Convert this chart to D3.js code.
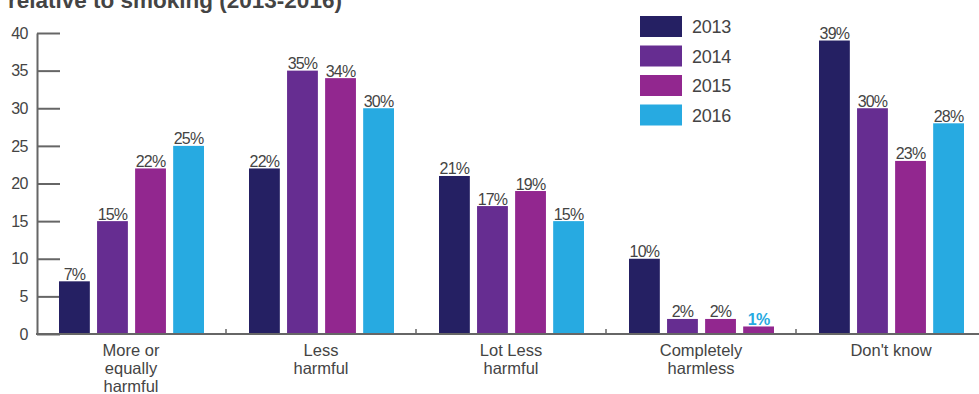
<!DOCTYPE html>
<html>
<head>
<meta charset="utf-8">
<script src="https://cdn.jsdelivr.net/npm/d3@7"></script>
<style>
    body { margin: 0; background: #fff; }
    svg { display: block; font-family: "Liberation Sans", Arial, sans-serif; }
</style>
</head>
<body>
<svg id="chart" width="979" height="394"></svg>
<script>
const categories = ['More or|equally|harmful', 'Less|harmful', 'Lot Less|harmful', 'Completely|harmless', "Don't know"];
const years = ['2013', '2014', '2015', '2016'];
const values2013 = [7, 22, 21, 10, 39];
const values2014 = [15, 35, 17, 2, 30];
const values2015 = [22, 34, 19, 2, 23];
const values2016 = [25, 30, 15, 1, 28];
const yTicks = [0, 5, 10, 15, 20, 25, 30, 35, 40];

const series = [values2013, values2014, values2015, values2016];
const colors = ['#252063', '#662d91', '#92278f', '#27aae1'];

const svg = d3.select('#chart');

const x = d3.scaleBand()
    .domain(categories)
    .range([36, 986]);

const xInner = d3.scaleBand()
    .domain(years)
    .range([23, x.bandwidth() - 22])
    .paddingInner(0.19);

const y = d3.scaleLinear()
    .domain([0, 40])
    .range([334, 33]);

// title (cut off at top in the original)
svg.append('text')
    .attr('x', 8)
    .attr('y', 8)
    .attr('font-size', 22.5)
    .attr('font-weight', 'bold')
    .attr('fill', '#444')
    .text('relative to smoking (2013-2016)');

// y axis
const yAxis = svg.append('g')
    .attr('transform', 'translate(37,0)')
    .call(d3.axisLeft(y).tickValues(yTicks).tickSizeInner(-23).tickSizeOuter(0).tickPadding(9));
yAxis.select('.domain').attr('stroke', '#666').attr('stroke-width', 2);
yAxis.selectAll('.tick line').attr('stroke', '#666').attr('stroke-width', 2);
yAxis.selectAll('.tick text')
    .attr('font-size', 16)
    .attr('letter-spacing', -0.5)
    .attr('fill', '#444')
    .attr('font-family', '"Liberation Sans", Arial, sans-serif');

// bars
const rows = [];
categories.forEach((c, i) => {
    years.forEach((yr, j) => {
        rows.push({ cat: c, year: yr, i, j, value: series[j][i] });
    });
});

const groups = svg.append('g');

groups.selectAll('rect')
    .data(rows)
    .join('rect')
    .attr('x', d => x(d.cat) + xInner(d.year))
    .attr('y', d => y(d.value))
    .attr('width', xInner.bandwidth())
    .attr('height', d => y(0) - y(d.value))
    // the 1% bar is drawn in the 2015 colour in the original
    .attr('fill', d => (d.value === 1 ? colors[2] : colors[d.j]));

groups.selectAll('text')
    .data(rows)
    .join('text')
    .attr('x', d => x(d.cat) + xInner(d.year) + xInner.bandwidth() / 2)
    .attr('y', d => y(d.value) - 1.5)
    .attr('text-anchor', 'middle')
    .attr('font-size', 16)
    .attr('letter-spacing', -0.8)
    .attr('font-weight', d => (d.value === 1 ? 'bold' : 'normal'))
    .attr('fill', d => (d.value === 1 ? colors[3] : '#444'))
    .text(d => d.value + '%');

// x axis
svg.append('line')
    .attr('x1', 36).attr('x2', 979)
    .attr('y1', y(0)).attr('y2', y(0))
    .attr('stroke', '#666').attr('stroke-width', 2);

svg.append('g')
    .selectAll('line')
    .data(categories)
    .join('line')
    .attr('x1', d => x(d) + x.bandwidth())
    .attr('x2', d => x(d) + x.bandwidth())
    .attr('y1', y(0))
    .attr('y2', y(0) - 5)
    .attr('stroke', '#666')
    .attr('stroke-width', 1.5);

const catLabels = svg.append('g')
    .selectAll('text')
    .data(categories)
    .join('text')
    .attr('text-anchor', 'middle')
    .attr('font-size', 16.5)
    .attr('fill', '#444');

catLabels.each(function (d) {
    const t = d3.select(this);
    d.split('|').forEach((line, k) => {
        t.append('tspan')
            .attr('x', x(d) + x.bandwidth() / 2)
            .attr('y', 356 + k * 18)
            .text(line);
    });
});

// legend
const legend = svg.append('g')
    .selectAll('g')
    .data(years)
    .join('g')
    .attr('transform', (d, i) => `translate(640,${16 + i * 29.5})`);

legend.append('rect')
    .attr('width', 42)
    .attr('height', 21)
    .attr('fill', (d, i) => colors[i]);

legend.append('text')
    .attr('x', 52)
    .attr('y', 17)
    .attr('font-size', 18)
    .attr('letter-spacing', -0.3)
    .attr('fill', '#444')
    .text(d => d);
</script>
</body>
</html>
